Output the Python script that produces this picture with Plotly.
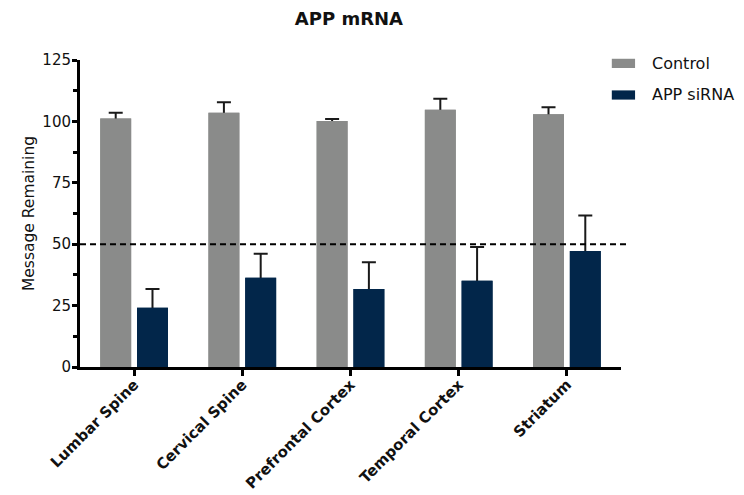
import plotly.graph_objects as go

# Tissue regions and measured APP message (% of control), mean and SEM
regions = ["Lumbar Spine", "Cervical Spine", "Prefrontal Cortex", "Temporal Cortex", "Striatum"]
series_names = ["Control", "APP siRNA"]
control_mean = [101.2, 103.5, 100.2, 104.7, 102.9]
control_sem = [2.3, 4.3, 0.8, 4.5, 2.9]
sirna_mean = [24.1, 36.3, 31.8, 35.1, 47.2]
sirna_sem = [7.7, 9.8, 10.9, 13.8, 14.5]
threshold = 50
y_ticks = [0, 25, 50, 75, 100, 125]

colors = ["#8a8b8a", "#02264a"]
font_family = "DejaVu Sans, Liberation Sans, Arial, sans-serif"

fig = go.Figure()
for i, (name, mean, sem, color) in enumerate(zip(series_names, [control_mean, sirna_mean],
                                                 [control_sem, sirna_sem], colors)):
    # bar carrying the SEM whiskers
    fig.add_trace(go.Bar(
        name=name, x=regions, y=mean, offsetgroup=str(i),
        marker=dict(color=color, line=dict(width=0)),
        error_y=dict(type="data", array=sem, color="#1a1a1a",
                     thickness=2, width=7),
        showlegend=False, hoverinfo="skip",
    ))
    # same bar drawn again on top so only the upper whisker shows
    fig.add_trace(go.Bar(
        name=name, x=regions, y=mean, offsetgroup=str(i),
        marker=dict(color=color, line=dict(width=0)),
        showlegend=False,
    ))

# dashed 50% reference line
fig.add_shape(type="line", xref="paper", yref="y", x0=0, x1=1.012,
              y0=threshold, y1=threshold,
              line=dict(color="black", width=2, dash="6px,4px"))

# legend: wide swatches with labels at the upper right
legend_y = [0.989, 0.886]
for name, color, ly in zip(series_names, colors, legend_y):
    fig.add_shape(type="rect", xref="paper", yref="paper",
                  x0=0.983, x1=1.026, y0=ly - 0.015, y1=ly + 0.015,
                  fillcolor=color, line=dict(width=0))
    fig.add_annotation(xref="paper", yref="paper", x=1.054, y=ly,
                       text=name, showarrow=False, xanchor="left",
                       yanchor="middle",
                       font=dict(family=font_family, size=16, color="#111"))

fig.update_layout(
    width=744, height=495,
    margin=dict(l=80, r=123, t=60, b=128),
    paper_bgcolor="white", plot_bgcolor="white",
    barmode="group", bargap=0.32, bargroupgap=0.16,
    title=dict(text="<b>APP mRNA</b>", x=0.469, xanchor="center",
               y=0.962, yanchor="middle",
               font=dict(family=font_family, size=18, color="#111")),
    font=dict(family=font_family, color="#111"),
)

fig.update_xaxes(
    automargin=False,
    showline=True, linecolor="black", linewidth=3,
    ticks="outside", tickwidth=2.5, ticklen=6, tickcolor="black",
    tickangle=-45, ticklabelstandoff=-6,
    tickfont=dict(family=font_family, size=15, color="#111", weight="bold"),
    showgrid=False, zeroline=False,
)

fig.update_yaxes(
    automargin=False,
    range=[0, 125], tickvals=y_ticks,
    showline=True, linecolor="black", linewidth=3,
    ticks="outside", tickwidth=2.5, ticklen=5, tickcolor="black",
    ticklabelstandoff=-2,
    minor=dict(dtick=12.5, ticks="outside", ticklen=4, tickwidth=2.5,
               tickcolor="black"),
    tickfont=dict(family=font_family, size=15, color="#111"),
    title=dict(text="Message Remaining", standoff=4,
               font=dict(family=font_family, size=15.5, color="#111")),
    showgrid=False, zeroline=False,
)

fig.write_html("out.html")
